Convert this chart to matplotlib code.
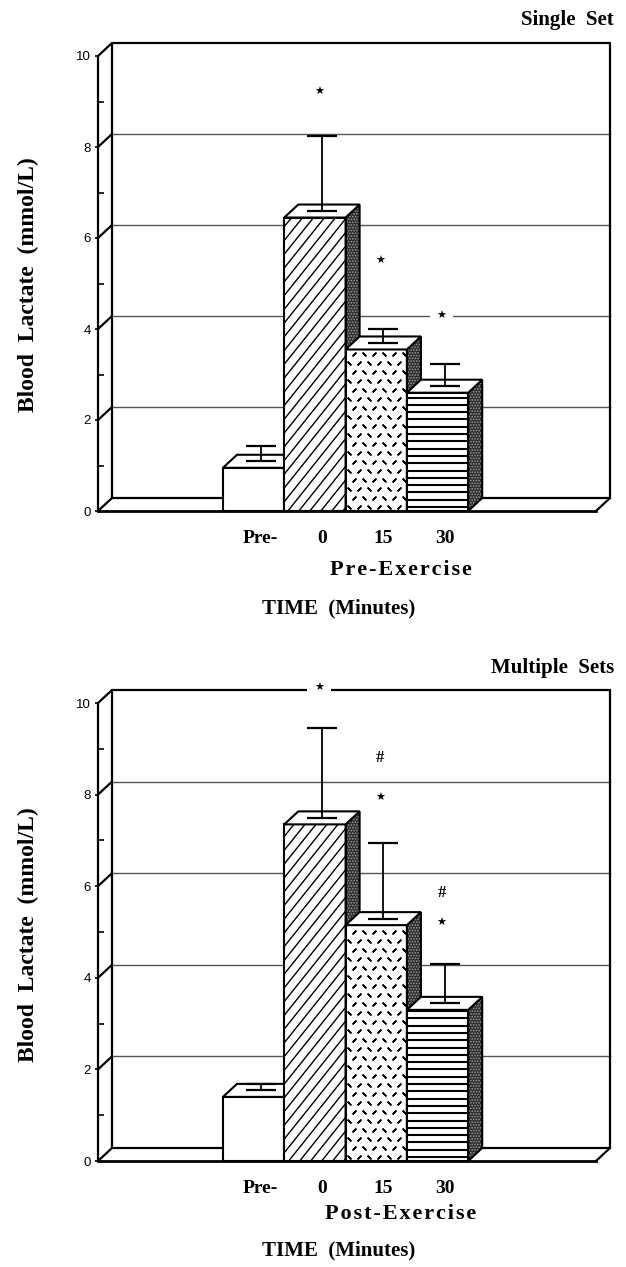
#!/usr/bin/env python3
import numpy as np
import matplotlib
matplotlib.use("Agg")
import matplotlib.pyplot as plt
from matplotlib.patches import Polygon, Rectangle

# ========= Data =========
times = ["Pre-", "0", "15", "30"]

single_mean = [0.95, 6.45, 3.55, 2.60]
single_sd = [0.33, 1.65, 0.31, 0.48]
single_marks = [("★", 1, 9.20), ("★", 2, 5.50), ("★", 3, 4.29)]

multi_mean = [1.40, 7.35, 5.15, 3.30]
multi_sd = [0.15, 1.97, 1.66, 0.85]
multi_marks = [("★", 1, 10.32), ("#", 2, 8.80), ("★", 2, 7.93),
               ("#", 3, 5.85), ("★", 3, 5.20)]

yticks = [0, 2, 4, 6, 8, 10]

# ========= Layout (pixels) =========
W, H = 626, 1267
SX = 61.3                # px per bar width
DEPTH_X, DEPTH_Y = 14, 13  # 3D depth offset in px
X0 = (223 - 98) / SX     # left edge of first bar (bar units)
XR = (610 - 98) / SX     # back wall right edge
XMAX, YMIN, YMAX = 8.6, -0.3, 10.6
DX = DEPTH_X / SX

SERIF = ["Liberation Serif", "DejaVu Serif"]
SANS = ["Liberation Sans", "DejaVu Sans"]

plt.rcParams["hatch.linewidth"] = 0.8

fig = plt.figure(figsize=(W / 100, H / 100), dpi=100)


def add_panel(base_px, sy):
    top_px = base_px - YMAX * sy
    bot_px = base_px - YMIN * sy
    ax = fig.add_axes([98 / W, 1 - bot_px / H, XMAX * SX / W, (bot_px - top_px) / H])
    ax.set_xlim(0, XMAX)
    ax.set_ylim(YMIN, YMAX)
    for s in ax.spines.values():
        s.set_visible(False)
    return ax


def texture(ax, kind, x, h, sy, front, z):
    hp = h * sy  # bar height in px
    arts = []
    if kind == "diag":
        for c in np.arange(-hp, SX + 10, 11):
            px = np.array([c, c + hp / 1.25])
            py = np.array([0, hp])
            arts += ax.plot(x + px / SX, py / sy, color="k", lw=1.0, zorder=z)
    elif kind == "horiz":
        for py in np.arange(4, hp, 7.3):
            arts += ax.plot([x, x + 1], [py / sy, py / sy], color="k", lw=1.5, zorder=z)
    elif kind == "dash":
        # short strokes, alternating "/" and "\" along each row
        rows = np.arange(4, hp, 9)
        for r, py in enumerate(rows):
            cols = np.arange(3 + 5 * (r % 2), SX, 10)
            for c, pxx in enumerate(cols):
                ang = 45 if (c + r) % 2 == 0 else -45
                arts.append(ax.scatter([x + pxx / SX], [py / sy], marker=(2, 2, ang),
                                       s=8, color="k", linewidths=1.1, zorder=z))
    for a in arts:
        a.set_clip_path(front)


def draw_panel(ax, means, sds, marks, sy):
    dy = DEPTH_Y / sy
    k = dict(color="k", lw=1.6, solid_capstyle="round", zorder=2, clip_on=False)

    # back wall gridlines
    for v in yticks[1:-1]:
        ax.plot([DX, XR], [v + dy, v + dy], color="#555555", lw=1.0, zorder=1)
    # frame
    ax.plot([0, 0], [0, 10], **k)
    ax.plot([DX, DX], [dy, 10 + dy], **k)
    ax.plot([DX, XR], [10 + dy, 10 + dy], **k)
    ax.plot([XR, XR], [dy, 10 + dy], **k)
    ax.plot([DX, XR], [dy, dy], **k)
    ax.plot([0, XR - DX], [0, 0], color="k", lw=2.0, zorder=2, clip_on=False)
    ax.plot([XR - DX, XR], [0, dy], **k)
    for v in yticks:
        ax.plot([0, DX], [v, v + dy], **k)

    # bars
    styles = [None, "diag", "dash", "horiz"]
    for i, (m, kind) in enumerate(zip(means, styles)):
        x = X0 + i
        z = 3 + i
        front = Rectangle((x, 0), 1, m, fc="white", ec="none", zorder=z)
        ax.add_patch(front)
        if kind:
            texture(ax, kind, x, m, sy, front, z + 0.05)
        ax.add_patch(Rectangle((x, 0), 1, m, fill=False, ec="k", lw=1.5, zorder=z + 0.2))
        side = [(x + 1, 0), (x + 1 + DX, dy), (x + 1 + DX, m + dy), (x + 1, m)]
        ax.add_patch(Polygon(side, fc="#2e2e2e", ec="#9a9a9a", hatch="......", lw=0, zorder=z + 0.1))
        ax.add_patch(Polygon(side, fill=False, ec="k", lw=1.5, zorder=z + 0.2))
        top = [(x, m), (x + DX, m + dy), (x + 1 + DX, m + dy), (x + 1, m)]
        ax.add_patch(Polygon(top, fc="white", ec="k", lw=1.5, zorder=z + 0.2))

    centers = X0 + np.arange(len(means)) + 0.5 + DX / 2
    ax.errorbar(centers, np.array(means) + dy / 2, yerr=[np.zeros(len(sds)), sds],
                fmt="none", ecolor="k", elinewidth=1.3, capsize=11, capthick=1.6, zorder=20)

    for sym, i, y in marks:
        if sym == "★":
            ax.text(centers[i] - 0.05, y, sym, ha="center", va="center", fontsize=8,
                    family=SANS, zorder=21,
                    bbox=dict(boxstyle="square,pad=0.6", fc="white", ec="none"))
        else:
            ax.text(centers[i] - 0.05, y, sym, ha="center", va="center", fontsize=12,
                    family=SERIF, fontweight="bold", zorder=21)

    # axis ticks and labels
    ax.set_yticks(yticks)
    ax.set_yticks([1, 3, 5, 7, 9], minor=True)
    ax.set_yticklabels([str(v) for v in yticks], family=SANS, fontsize=9.5)
    ax.tick_params(axis="y", which="major", length=2, width=1.2, pad=3)
    ax.tick_params(axis="y", which="minor", direction="in", length=4, width=1.2)
    ax.set_xticks(centers)
    ax.set_xticklabels(times, family=SERIF, fontweight="bold", fontsize=14)
    ax.tick_params(axis="x", length=0, pad=4)


panels = [
    (511, 45.5, single_mean, single_sd, single_marks, "Single  Set", "Pre-Exercise", 20, 570, 608),
    (1161, 45.8, multi_mean, multi_sd, multi_marks, "Multiple  Sets", "Post-Exercise", 668, 1214, 1250),
]

for base, sy, means, sds, marks, title, phase, ty, py, ly in panels:
    ax = add_panel(base, sy)
    draw_panel(ax, means, sds, marks, sy)
    fig.text(614 / W, 1 - ty / H, title, ha="right", va="center",
             family=SERIF, fontweight="bold", fontsize=15)
    fig.text(401 / W, 1 - py / H, "\u200a".join(phase), ha="center",
             va="center", family=SERIF, fontweight="bold", fontsize=16)
    fig.text(339 / W, 1 - ly / H, "TIME  (Minutes)", ha="center",
             va="center", family=SERIF, fontweight="bold", fontsize=15)
    fig.text(28 / W, 1 - (base - 226) / H, "Blood  Lactate  (mmol/L)", rotation=90,
             ha="center", va="center", family=SERIF, fontweight="bold", fontsize=17)

fig.savefig("out.png", dpi=100)
